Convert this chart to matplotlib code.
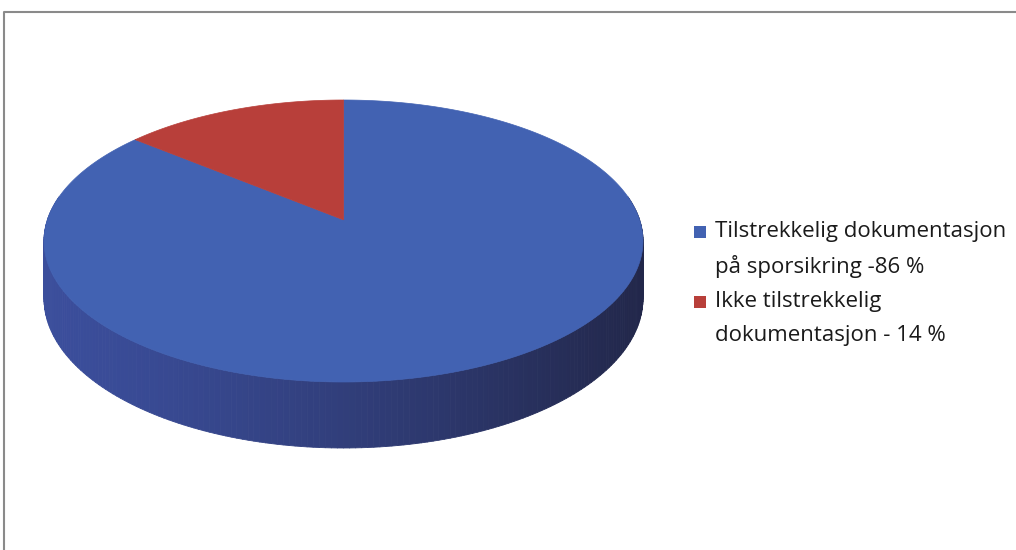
import numpy as np
import matplotlib
matplotlib.use("Agg")
import matplotlib.pyplot as plt
from matplotlib.patches import Polygon, Rectangle
from matplotlib.collections import PolyCollection
from matplotlib.colors import to_rgb

legend_lines = [["Tilstrekkelig dokumentasjon", "på sporsikring -86 %"],
                ["Ikke tilstrekkelig", "dokumentasjon - 14 %"]]
values = [86, 14]
top_colors = ["#4262b2", "#b83f3a"]

W, H = 1016, 550
fig = plt.figure(figsize=(W / 100, H / 100), dpi=100)
ax = fig.add_axes([0, 0, 1, 1])
ax.set_xlim(0, W)
ax.set_ylim(H, 0)
ax.axis("off")

# chart frame
ax.plot([4, 4, W], [H, 12, 12], color="#8a8a8a", lw=1.5)

# perspective projection of a unit disc, fitted into the pie box
k = 0.15
x_lo, x_hi, y_top, y_bot, depth_front = 44, 643, 100, 382, 66
tt = np.radians(np.linspace(0, 360, 3601))
Xs = np.cos(tt) / (1 + k * np.sin(tt))
Ys = np.sin(tt) / (1 + k * np.sin(tt))
A = (x_hi - x_lo) / (Xs.max() - Xs.min())
B = (y_bot - y_top) / (Ys.max() - Ys.min())
cx = x_lo - A * Xs.min()
cy = y_top + B * Ys.max()
D = depth_front * (1 - k)

def pt(theta_deg, z=0.0):
    t = np.radians(theta_deg)
    d = 1 + k * np.sin(t)
    return cx + A * np.cos(t) / d, cy - B * np.sin(t) / d + D * z / d

# side wall (front half), shaded from left to right
left_c = np.array(to_rgb("#3b4e9c"))
right_c = np.array(to_rgb("#22274a"))
polys, cols = [], []
n = 200
angs = np.linspace(170, 370, n + 1)
for i in range(n):
    t0, t1 = angs[i], angs[i + 1]
    x0, y0 = pt(t0)
    x1, y1 = pt(t1)
    x0b, y0b = pt(t0, 1)
    x1b, y1b = pt(t1, 1)
    polys.append([(x0, y0), (x1, y1), (x1b, y1b), (x0b, y0b)])
    xm = (x0 + x1) / 2
    f = np.clip((xm - x_lo) / (x_hi - x_lo), 0, 1) ** 1.3
    cols.append(left_c * (1 - f) + right_c * f)
ax.add_collection(PolyCollection(polys, facecolors=cols, edgecolors=cols, linewidths=0.6))

# top wedges: red slice counter-clockwise from 12 o'clock, blue the rest
total = sum(values)
spans = [v / total * 360 for v in values]
red_start, red_end = 90.0, 90.0 + spans[1]
blue_start, blue_end = red_end, red_end + spans[0]
for (s, e), col in zip([(blue_start, blue_end), (red_start, red_end)], top_colors):
    th = np.linspace(s, e, 400)
    xs, ys = pt(th)
    verts = [pt(0.0 * 0 + 90, 0)] if False else []
    cxy = (cx, cy)
    verts = [cxy] + list(zip(xs, ys))
    ax.add_patch(Polygon(verts, closed=True, facecolor=col, edgecolor=col, lw=0.5))

# legend
fs = 16
lx = 694
line_y = [[232, 266], [302, 336]]
for lines, ys, col in zip(legend_lines, line_y, top_colors):
    ax.add_patch(Rectangle((lx, ys[0] - 6), 12, 12, facecolor=col, edgecolor="none"))
    for txt, y in zip(lines, ys):
        ax.text(lx + 21, y, txt, fontsize=fs, family="Open Sans", color="#1a1a1a",
                va="center", ha="left")

fig.savefig("out.png", dpi=100, facecolor="white")
